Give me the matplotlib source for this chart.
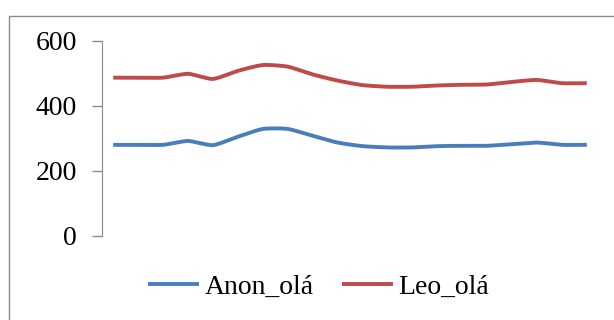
import numpy as np
import matplotlib
matplotlib.use("Agg")
import matplotlib.pyplot as plt
from matplotlib.patches import Rectangle

# Series values (20 categories)
anon_ola = [280, 280, 280, 292, 279, 305, 329, 329, 308, 287,
            276, 272, 272, 276, 277, 277, 282, 287, 280, 280]
leo_ola = [487, 487, 487, 499, 483, 508, 526, 521, 497, 478,
           464, 459, 459, 463, 465, 466, 474, 480, 470, 470]
series_names = ["Anon_olá", "Leo_olá"]
y_ticks = [0, 200, 400, 600]

colors = ["#4A7EBB", "#BE4B48"]


def smooth(y, n=20):
    """Catmull-Rom curve through the points, like a spreadsheet's smoothed line."""
    y = np.asarray(y, dtype=float)
    x = np.arange(len(y), dtype=float)
    px = np.concatenate([[x[0]], x, [x[-1]]])
    py = np.concatenate([[y[0]], y, [y[-1]]])
    xs, ys = [], []
    t = np.linspace(0, 1, n, endpoint=False)
    for i in range(1, len(px) - 2):
        for arr, out in ((px, xs), (py, ys)):
            p0, p1, p2, p3 = arr[i - 1], arr[i], arr[i + 1], arr[i + 2]
            m1 = (p2 - p0) / 2 * 0.6
            m2 = (p3 - p1) / 2 * 0.6
            h00 = 2 * t**3 - 3 * t**2 + 1
            h10 = t**3 - 2 * t**2 + t
            h01 = -2 * t**3 + 3 * t**2
            h11 = t**3 - t**2
            out.extend(h00 * p1 + h10 * m1 + h01 * p2 + h11 * m2)
    xs.append(x[-1])
    ys.append(y[-1])
    return np.array(xs), np.array(ys)


plt.rcParams["font.family"] = ["Liberation Serif", "DejaVu Serif"]

fig = plt.figure(figsize=(6.14, 3.2), dpi=100)
fig.patches.append(Rectangle((9 / 614, -0.1), 1.2, 1 - 16 / 320 + 0.1,
                             transform=fig.transFigure, fill=False,
                             edgecolor="#8c8c8c", linewidth=1.0))

ax = fig.add_axes([102 / 614, 1 - 235.7 / 320, (598 - 102) / 614, (235.7 - 41) / 320])

for vals, name, c in zip([anon_ola, leo_ola], series_names, colors):
    sx, sy = smooth(vals)
    ax.plot(sx, sy, color=c, linewidth=2.8, solid_capstyle="butt", label=name)

ax.set_ylim(0, 600)
ax.set_xlim(-0.45, len(anon_ola) - 0.55)
ax.set_yticks(y_ticks)
ax.set_yticklabels([str(v) for v in y_ticks], fontsize=20)
ax.set_xticks([])
for s in ["top", "right", "bottom"]:
    ax.spines[s].set_visible(False)
ax.spines["left"].set_color("#8c8c8c")
ax.tick_params(axis="y", direction="out", length=7, width=1, color="#8c8c8c", pad=11)

fig.legend(loc="center", bbox_to_anchor=(318.5 / 614, 1 - 287 / 320), ncol=2,
           frameon=False, fontsize=20, handlelength=1.85, handletextpad=0.2,
           columnspacing=1.0)

fig.savefig("out.png", dpi=100)
